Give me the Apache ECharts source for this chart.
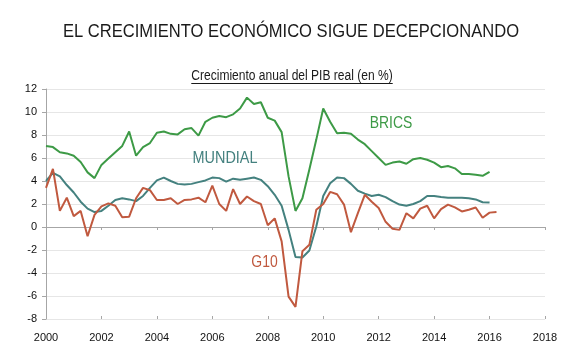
<!DOCTYPE html>
<html><head><meta charset="utf-8">
<script src="https://cdn.jsdelivr.net/npm/echarts@6/dist/echarts.min.js"></script>
<style>html,body{margin:0;padding:0;background:#fff}#c{width:585px;height:360px}</style>
</head><body><div id="c"></div>
<script>
// Quarterly data, first point = 2000 Q1
const startYear = 2000;
const brics = [7.05,6.95,6.5,6.4, 6.2,5.65,4.75,4.25, 5.4,5.95,6.5,7.05, 8.3,6.2,6.95,7.3,
  8.2,8.3,8.1,8.05, 8.5,8.6,7.95,9.15, 9.5,9.65,9.55,9.8, 10.3,11.25,10.7,10.85,
  9.5,9.25,8.25,4.4, 1.4,2.5,5.0,7.6, 10.3,9.15,8.15,8.2, 8.1,7.6,7.2,6.6,
  6.0,5.4,5.6,5.7, 5.5,5.9,6.0,5.85, 5.6,5.2,5.3,5.1, 4.6,4.6,4.55,4.45, 4.8];
const mundial = [4.0,4.7,4.4,3.65, 3.0,2.2,1.6,1.3, 1.4,1.85,2.35,2.5, 2.4,2.25,2.7,3.4,
  4.05,4.3,4.0,3.75, 3.7,3.75,3.9,4.05, 4.3,4.25,3.95,4.2, 4.1,4.2,4.3,4.1,
  3.55,2.8,1.85,-0.25, -2.6,-2.65,-2.05,0.05, 2.7,3.8,4.3,4.25, 3.75,3.15,2.9,2.7,
  2.8,2.6,2.25,1.95, 1.85,2.0,2.25,2.7, 2.7,2.6,2.55,2.55, 2.55,2.5,2.4,2.15, 2.12];
const g10 = [3.4,5.05,1.4,2.55, 0.95,1.4,-0.8,1.05, 1.8,2.05,1.85,0.85, 0.9,2.5,3.4,3.2,
  2.35,2.35,2.5,2.0, 2.35,2.4,2.55,2.15, 3.6,2.0,1.4,3.3, 2.0,2.65,2.25,2.0,
  0.15,0.75,-1.25,-6.05, -6.95,-2.1,-1.55,1.5, 2.0,3.05,2.85,1.95, -0.45,1.2,2.8,2.2,
  1.65,0.45,-0.15,-0.25, 1.2,0.75,1.6,1.85, 0.75,1.55,1.95,1.7, 1.35,1.5,1.7,0.8, 1.25,1.3];
const seriesNames = ['BRICS','MUNDIAL','G10'];
const xMin = 2000, xMax = 2018, xStep = 2;
const yMin = -8, yMax = 12, yStep = 2;
const titleText = 'EL CRECIMIENTO ECONÓMICO SIGUE DECEPCIONANDO';
const subtitleText = 'Crecimiento anual del PIB real (en %)';

const COLORS = {BRICS:'#3d9a46', MUNDIAL:'#44817f', G10:'#c0593f'};
const FONT = "Liberation Sans";
const AX = '#a6a6a6';

function pairs(vals){ return vals.map((v,i)=>[startYear + i/4, v]); }

const chart = echarts.init(document.getElementById('c'), null, {renderer:'canvas'});
const mk = (name, vals) => ({
  name, type:'line', data:pairs(vals), showSymbol:false, symbol:'none',
  lineStyle:{width:2, color:COLORS[name]}, itemStyle:{color:COLORS[name]},
  xAxisIndex:0, yAxisIndex:0, animation:false, z:3
});
function txt(text, cx, cy, size, scale, color){
  return {type:'text', x:cx, y:cy, scaleX:scale, scaleY:1, z:10,
    style:{text, fontSize:size, fontFamily:FONT, fill:color,
      align:'center', verticalAlign:'middle', textAlign:'center', textVerticalAlign:'middle'}};
}
const subSize = 14, subScale = 0.86;
const subW = echarts.format.getTextRect(subtitleText, subSize + 'px ' + FONT).width * subScale;
const xBase = {type:'value', min:xMin, max:xMax, interval:xStep, position:'bottom', splitLine:{show:false}};

chart.setOption({
  animation:false,
  textStyle:{fontFamily:FONT},
  grid:{left:46, right:40, top:89, bottom:41, containLabel:false, outerBoundsMode:'none'},
  xAxis:[
    Object.assign({}, xBase, {
      axisLine:{show:false, onZero:false},
      axisTick:{show:false},
      axisLabel:{show:true, margin:13, color:'#111', fontSize:11, fontFamily:FONT, formatter:v=>String(v)}
    }),
    Object.assign({}, xBase, {
      axisLine:{show:true, onZero:true, lineStyle:{color:AX, width:1}},
      axisTick:{show:true, inside:false, length:3, lineStyle:{color:AX}},
      axisLabel:{show:false}
    }),
    Object.assign({}, xBase, {
      axisLine:{show:false, onZero:true},
      axisTick:{show:true, inside:true, length:3, lineStyle:{color:AX}},
      axisLabel:{show:false}
    })
  ],
  yAxis:{
    type:'value', min:yMin, max:yMax, interval:yStep,
    axisLine:{show:true, onZero:false, lineStyle:{color:AX}},
    axisTick:{show:true, length:4, lineStyle:{color:AX}},
    axisLabel:{margin:9, color:'#111', fontSize:11, fontFamily:FONT},
    splitLine:{show:true, lineStyle:{color:'#e6e6e6', width:1}}
  },
  series:[mk('BRICS',brics), mk('MUNDIAL',mundial), mk('G10',g10)],
  graphic:[
    txt(titleText, 291, 32, 18, 0.92, '#1a1a1a'),
    txt(subtitleText, 292, 76, subSize, subScale, '#1a1a1a'),
    {type:'line', shape:{x1:292-subW/2, y1:83.5, x2:292+subW/2, y2:83.5}, style:{stroke:'#1a1a1a', lineWidth:1}},
    txt(seriesNames[0], 391, 123.5, 17, 0.82, COLORS.BRICS),
    txt(seriesNames[1], 225, 158.5, 17, 0.85, COLORS.MUNDIAL),
    txt(seriesNames[2], 264.5, 262, 17, 0.82, COLORS.G10)
  ]
});
</script></body></html>
